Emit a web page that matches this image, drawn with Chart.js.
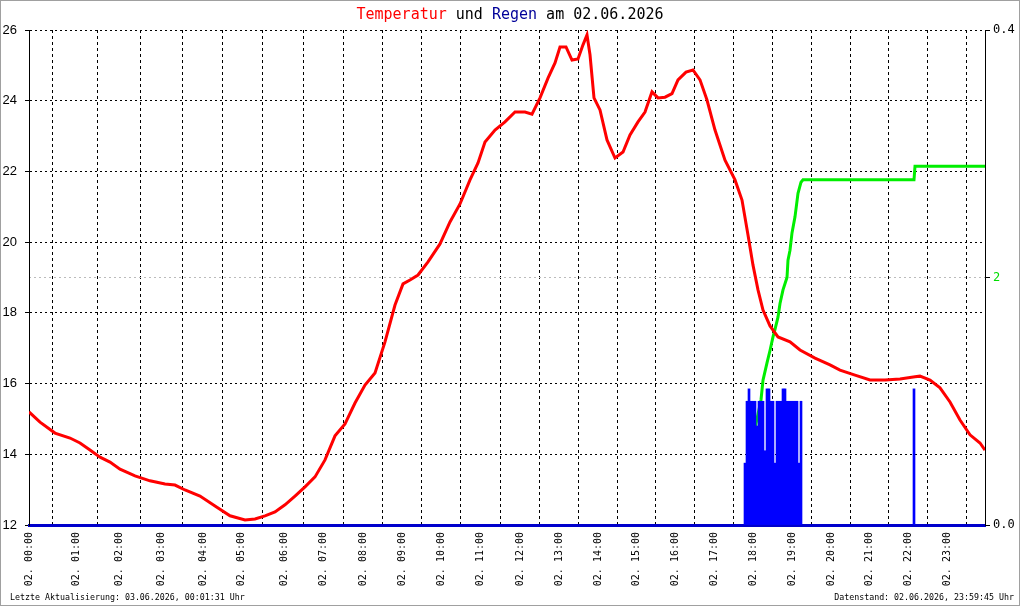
<!DOCTYPE html>
<html>
<head>
<meta charset="utf-8">
<script src="https://cdn.jsdelivr.net/npm/chart.js@4"></script>
<style>
    body { margin: 0; background: #fff; }
    #wrap { position: relative; width: 1020px; height: 606px; }
    #frame { position: absolute; left: 0; top: 0; width: 1020px; height: 606px; box-sizing: border-box; border: 1px solid #a0a0a0; pointer-events: none; }
    .txt { position: absolute; font-family: "DejaVu Sans Mono", monospace; white-space: pre; }
    #title { top: 5px; left: 0; width: 1020px; text-align: center; font-size: 15px; color: #000; }
    #upd { left: 10px; top: 592px; font-size: 8.3px; }
    #stand { right: 6px; top: 592px; font-size: 8.3px; }
</style>
</head>
<body>
<div id="wrap">
    <canvas id="wetterChart" width="1020" height="606"></canvas>
    <div id="title" class="txt"><span style="color:#ff0000">Temperatur</span> und <span style="color:#000099">Regen</span> am 02.06.2026</div>
    <div id="upd" class="txt">Letzte Aktualisierung: 03.06.2026, 00:01:31 Uhr</div>
    <div id="stand" class="txt">Datenstand: 02.06.2026, 23:59:45 Uhr</div>
    <div id="frame"></div>
</div>
<script>
// x axis = record number of the day (records are not evenly spaced in time)
var hourLabels = ['02. 00:00', '02. 01:00', '02. 02:00', '02. 03:00', '02. 04:00', '02. 05:00',
    '02. 06:00', '02. 07:00', '02. 08:00', '02. 09:00', '02. 10:00', '02. 11:00',
    '02. 12:00', '02. 13:00', '02. 14:00', '02. 15:00', '02. 16:00', '02. 17:00',
    '02. 18:00', '02. 19:00', '02. 20:00', '02. 21:00', '02. 22:00', '02. 23:00'];
var hourPos = [0, 47, 90, 132, 174, 212, 255, 294, 334, 373, 412, 451,
    491, 530, 569, 607, 646, 685, 724, 763, 802, 840, 879, 918];
var lastRecord = 956;

// Temperatur (°C)
var tempIdx = [0, 11, 26, 41, 51, 61, 71, 81, 91, 106, 121, 136, 146, 156, 171, 186, 201, 216, 226, 236,
    246, 256, 266, 276, 286, 296, 306, 316, 326, 336, 346, 356, 366, 374, 381, 389, 399, 411, 421, 431,
    441, 449, 456, 466, 476, 486, 496, 503, 511, 519, 526, 531, 537, 543, 549, 554, 558, 561, 565, 571,
    578, 586, 594, 601, 609, 616, 623, 629, 636, 643, 649, 657, 664, 671, 678, 686, 696, 706, 713, 719,
    724, 729, 734, 741, 749, 761, 771, 786, 801, 811, 826, 841, 856, 871, 886, 891, 901, 911, 921, 931,
    941, 951, 956];
var tempVal = [15.2, 14.91, 14.6, 14.46, 14.32, 14.12, 13.92, 13.78, 13.58, 13.39, 13.25, 13.16, 13.13, 12.99, 12.82, 12.54, 12.26, 12.14, 12.17, 12.26,
    12.37, 12.57, 12.82, 13.08, 13.36, 13.84, 14.52, 14.86, 15.45, 15.96, 16.3, 17.18, 18.22, 18.82, 18.93, 19.07, 19.44, 19.95, 20.57, 21.08,
    21.76, 22.24, 22.83, 23.17, 23.4, 23.68, 23.68, 23.62, 24.08, 24.64, 25.07, 25.52, 25.52, 25.15, 25.18, 25.58, 25.86, 25.3, 24.08, 23.74,
    22.89, 22.38, 22.55, 23.03, 23.4, 23.68, 24.25, 24.08, 24.1, 24.2, 24.59, 24.81, 24.87, 24.59, 24.02, 23.17, 22.32, 21.76, 21.19, 20.2,
    19.35, 18.65, 18.08, 17.63, 17.32, 17.18, 16.95, 16.72, 16.53, 16.38, 16.24, 16.1, 16.1, 16.13, 16.19, 16.21, 16.1, 15.88, 15.48, 14.97,
    14.55, 14.32, 14.12];

// Regen je Messung (mm)
var rainIdx = [716, 718, 720, 722, 724, 726, 728, 730, 732, 734, 736, 738, 740, 742, 744,
    746, 748, 750, 752, 754, 756, 758, 760, 762, 764, 766, 768, 770, 772, 885];
var rainVal = [0.05, 0.1, 0.11, 0.1, 0.1, 0.1, 0.08, 0.1, 0.1, 0.1, 0.06, 0.11, 0.11, 0.1, 0.1,
    0.05, 0.1, 0.1, 0.1, 0.11, 0.11, 0.1, 0.1, 0.1, 0.1, 0.1, 0.1, 0.05, 0.1, 0.11];

// Regensumme (mm)
var sumIdx = [720, 727, 732, 734, 738, 741, 744, 746, 749, 751, 754, 758, 759, 761, 763, 766, 769, 772, 774, 885, 886, 956];
var sumVal = [0.3, 0.82, 1.01, 1.17, 1.31, 1.41, 1.52, 1.58, 1.68, 1.79, 1.9, 2.0, 2.14, 2.22, 2.36, 2.49, 2.68, 2.77, 2.79, 2.79, 2.9, 2.9];

var tempTicks = [12, 14, 16, 18, 20, 22, 24, 26];

function pts(xs, ys) {
    return xs.map(function (x, i) { return { x: x, y: ys[i] }; });
}

var canvas = document.getElementById('wetterChart');
var wetterChart = new Chart(canvas, {
    type: 'line',
    data: {
        datasets: [{
            label: 'Temperatur',
            data: pts(tempIdx, tempVal),
            borderColor: '#ff0000',
            borderWidth: 3,
            pointRadius: 0,
            tension: 0,
            yAxisID: 'y',
            order: 0
        }, {
            type: 'bar',
            label: 'Regen',
            data: pts(rainIdx, rainVal),
            backgroundColor: '#0000ff',
            borderWidth: 0,
            barPercentage: 1,
            categoryPercentage: 1,
            yAxisID: 'yRain',
            order: 1
        }, {
            label: 'Regensumme',
            data: pts(sumIdx, sumVal),
            borderColor: '#00ee00',
            borderWidth: 3,
            pointRadius: 0,
            tension: 0,
            yAxisID: 'ySum',
            order: 2
        }]
    },
    options: {
        responsive: false,
        animation: false,
        devicePixelRatio: 1,
        layout: { padding: { top: 30, left: 0, right: 0, bottom: 0 } },
        plugins: {
            legend: { display: false },
            tooltip: { enabled: false },
            title: { display: false }
        },
        scales: {
            x: {
                type: 'linear',
                min: 0,
                max: lastRecord,
                offset: false,
                afterBuildTicks: function (scale) {
                    scale.ticks = hourPos.map(function (v) { return { value: v }; });
                },
                afterFit: function (scale) { scale.height = 81; },
                grid: {
                    color: function (ctx) { return ctx.tick && ctx.tick.value === 0 ? 'rgba(0,0,0,0)' : '#000'; },
                    lineWidth: 1,
                    drawTicks: false
                },
                // dashed verticals
                border: { display: true, color: '#0000cc', width: 3, dash: [3, 3] },
                ticks: {
                    autoSkip: false,
                    minRotation: 90,
                    maxRotation: 90,
                    padding: 7,
                    color: '#000',
                    font: { family: 'DejaVu Sans Mono', size: 10 },
                    callback: function (value, index) { return hourLabels[index]; }
                }
            },
            y: {
                position: 'left',
                min: 12,
                max: 26,
                afterBuildTicks: function (scale) {
                    scale.ticks = tempTicks.map(function (v) { return { value: v }; });
                },
                afterFit: function (scale) { scale.width = 29; },
                grid: {
                    color: function (ctx) { return ctx.tick && ctx.tick.value === 12 ? 'rgba(0,0,0,0)' : '#000'; },
                    tickColor: '#000',
                    tickLength: 4,
                    tickBorderDash: [],
                    lineWidth: 1
                },
                // dotted horizontals
                border: { display: true, color: '#000', width: 1, dash: [2, 3] },
                ticks: {
                    padding: 8,
                    color: '#000',
                    font: { family: 'Liberation Sans', size: 13 },
                    callback: function (v) { return String(v); }
                }
            },
            yRain: {
                position: 'right',
                min: 0,
                max: 0.4,
                afterBuildTicks: function (scale) {
                    scale.ticks = [{ value: 0 }, { value: 0.2 }, { value: 0.4 }];
                },
                afterFit: function (scale) { scale.width = 35; },
                grid: {
                    drawOnChartArea: true,
                    color: function (ctx) {
                        return ctx.tick && Math.abs(ctx.tick.value - 0.2) < 1e-6 ? '#bbbbbb' : 'rgba(0,0,0,0)';
                    },
                    tickColor: '#000',
                    tickLength: 5,
                    tickBorderDash: [],
                    lineWidth: 1
                },
                border: { display: true, color: '#000', width: 1, dash: [2, 3] },
                ticks: {
                    padding: 3,
                    font: { family: 'DejaVu Sans Mono', size: 12 },
                    color: function (ctx) {
                        return Math.abs(ctx.tick.value - 0.2) < 1e-6 ? '#00dd00' : '#000';
                    },
                    callback: function (v) {
                        if (Math.abs(v - 0.2) < 1e-6) return '2'; // Regensumme-Achse (0..4 mm)
                        return v.toFixed(1);
                    }
                }
            },
            ySum: {
                display: false,
                position: 'right',
                min: 0,
                max: 4
            }
        }
    }
});
</script>
</body>
</html>
